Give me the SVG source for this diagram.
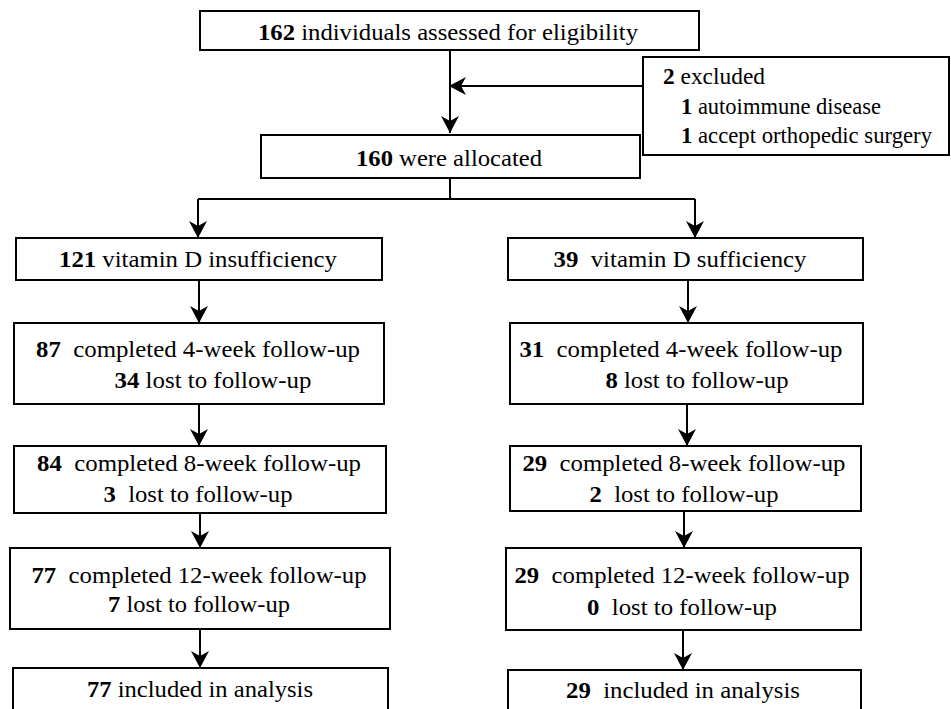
<svg xmlns="http://www.w3.org/2000/svg" width="951" height="709" viewBox="0 0 951 709">
<style>
rect.b{fill:#fff;stroke:#000;stroke-width:2}
text{font-family:"Times New Roman","Liberation Serif",Tinos,"Noto Serif","Nimbus Roman","FreeSerif",Times,serif;font-size:24px;fill:#000;white-space:pre}
text.c{text-anchor:middle}
tspan.n{font-weight:bold}
#connectors path{fill:none;stroke:#000;stroke-width:2}
</style>
<defs>
<marker id="ah" markerUnits="userSpaceOnUse" markerWidth="20" markerHeight="20" refX="0" refY="0" viewBox="-17 -10 20 20" orient="auto">
<path d="M0,0 L-17,-9 L-12,0 L-17,9 Z" fill="#000"/>
</marker>
</defs>
<rect width="951" height="709" fill="#fff"/>
<g id="connectors">
<path d="M450,50 V133" marker-end="url(#ah)"/>
<path d="M643,86 H449" marker-end="url(#ah)"/>
<path d="M450,178 V199 M198,199 H695"/>
<path d="M198,199 V238" marker-end="url(#ah)"/>
<path d="M695,199 V238" marker-end="url(#ah)"/>
<path d="M199,280 V323" marker-end="url(#ah)"/>
<path d="M688,280 V323" marker-end="url(#ah)"/>
<path d="M199,404 V446" marker-end="url(#ah)"/>
<path d="M687,404 V446" marker-end="url(#ah)"/>
<path d="M200,513 V548" marker-end="url(#ah)"/>
<path d="M684,511 V548" marker-end="url(#ah)"/>
<path d="M200,629 V668" marker-end="url(#ah)"/>
<path d="M683,630 V670" marker-end="url(#ah)"/>
</g>
<g id="n-assessed">
<rect class="b" x="200" y="11" width="499" height="39"/>
<text class="c" x="448" y="40" textLength="380" lengthAdjust="spacingAndGlyphs"><tspan class="n">162</tspan> individuals assessed for eligibility</text>
</g>
<g id="n-excluded">
<rect class="b" x="643" y="57" width="306" height="98"/>
<text x="663" y="84" textLength="102" lengthAdjust="spacingAndGlyphs"><tspan class="n">2</tspan> excluded</text>
<text x="681" y="114" textLength="200" lengthAdjust="spacingAndGlyphs"><tspan class="n">1</tspan> autoimmune disease</text>
<text x="681" y="143" textLength="251" lengthAdjust="spacingAndGlyphs"><tspan class="n">1</tspan> accept orthopedic surgery</text>
</g>
<g id="n-allocated">
<rect class="b" x="261" y="135" width="379" height="43"/>
<text class="c" x="449" y="166" textLength="186" lengthAdjust="spacingAndGlyphs"><tspan class="n">160</tspan> were allocated</text>
</g>
<g id="n-insuff">
<rect class="b" x="16" y="238" width="366" height="42"/>
<text class="c" x="198" y="267" textLength="278" lengthAdjust="spacingAndGlyphs"><tspan class="n">121</tspan> vitamin D insufficiency</text>
</g>
<g id="n-suff">
<rect class="b" x="508" y="238" width="355" height="42"/>
<text class="c" x="680" y="267" textLength="253" lengthAdjust="spacingAndGlyphs"><tspan class="n">39</tspan>  vitamin D sufficiency</text>
</g>
<g id="n-l4">
<rect class="b" x="14" y="323" width="370" height="81"/>
<text class="c" x="198" y="357" textLength="324" lengthAdjust="spacingAndGlyphs"><tspan class="n">87</tspan>  completed 4-week follow-up</text>
<text class="c" x="213" y="388" textLength="197" lengthAdjust="spacingAndGlyphs"><tspan class="n">34</tspan> lost to follow-up</text>
</g>
<g id="n-r4">
<rect class="b" x="510" y="323" width="353" height="81"/>
<text class="c" x="681" y="357" textLength="323" lengthAdjust="spacingAndGlyphs"><tspan class="n">31</tspan>  completed 4-week follow-up</text>
<text class="c" x="697" y="388" textLength="183" lengthAdjust="spacingAndGlyphs"><tspan class="n">8</tspan> lost to follow-up</text>
</g>
<g id="n-l8">
<rect class="b" x="14" y="446" width="372" height="67"/>
<text class="c" x="199" y="471" textLength="324" lengthAdjust="spacingAndGlyphs"><tspan class="n">84</tspan>  completed 8-week follow-up</text>
<text class="c" x="198" y="502" textLength="189" lengthAdjust="spacingAndGlyphs"><tspan class="n">3</tspan>  lost to follow-up</text>
</g>
<g id="n-r8">
<rect class="b" x="510" y="446" width="351" height="65"/>
<text class="c" x="684" y="471" textLength="323" lengthAdjust="spacingAndGlyphs"><tspan class="n">29</tspan>  completed 8-week follow-up</text>
<text class="c" x="684" y="502" textLength="189" lengthAdjust="spacingAndGlyphs"><tspan class="n">2</tspan>  lost to follow-up</text>
</g>
<g id="n-l12">
<rect class="b" x="10" y="548" width="380" height="81"/>
<text class="c" x="199" y="583" textLength="335" lengthAdjust="spacingAndGlyphs"><tspan class="n">77</tspan>  completed 12-week follow-up</text>
<text class="c" x="199" y="612" textLength="182" lengthAdjust="spacingAndGlyphs"><tspan class="n">7</tspan> lost to follow-up</text>
</g>
<g id="n-r12">
<rect class="b" x="506" y="548" width="355" height="82"/>
<text class="c" x="682" y="583" textLength="335" lengthAdjust="spacingAndGlyphs"><tspan class="n">29</tspan>  completed 12-week follow-up</text>
<text class="c" x="682" y="615" textLength="190" lengthAdjust="spacingAndGlyphs"><tspan class="n">0</tspan>  lost to follow-up</text>
</g>
<g id="n-lanalysis">
<rect class="b" x="13" y="668" width="375" height="60"/>
<text class="c" x="200" y="697" textLength="226" lengthAdjust="spacingAndGlyphs"><tspan class="n">77</tspan> included in analysis</text>
</g>
<g id="n-ranalysis">
<rect class="b" x="508" y="670" width="353" height="60"/>
<text class="c" x="683" y="698" textLength="234" lengthAdjust="spacingAndGlyphs"><tspan class="n">29</tspan>  included in analysis</text>
</g>
</svg>
